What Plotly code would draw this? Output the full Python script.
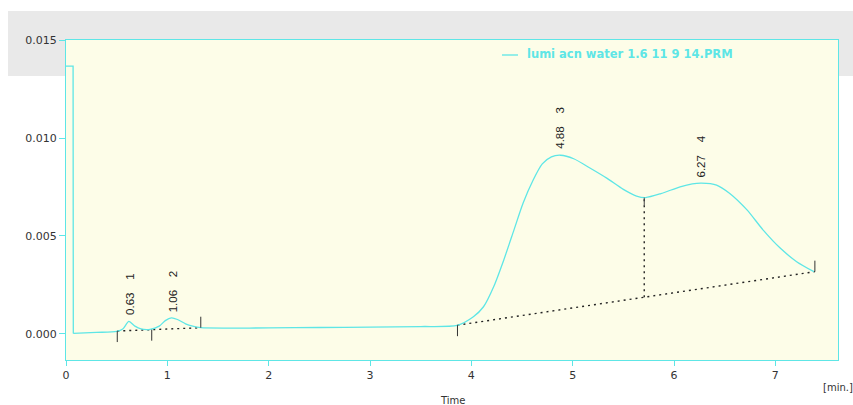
import plotly.graph_objects as go

# ---- data ----
spike_t = [0.0, 0.07, 0.072]
spike_v = [0.01367, 0.01367, 0.00003]

sig_t = [0.072, 0.3, 0.5, 0.56, 0.62, 0.68, 0.74, 0.83, 0.92, 0.98, 1.04, 1.10, 1.18, 1.25, 1.33,
         1.6, 2.0, 2.5, 3.0, 3.5, 3.86, 4.02, 4.12, 4.22, 4.32, 4.42, 4.51, 4.61, 4.70, 4.79,
         4.88, 5.01, 5.17, 5.34, 5.50, 5.63, 5.72, 5.87, 6.06, 6.18, 6.27, 6.42, 6.55,
         6.72, 6.88, 7.05, 7.21, 7.38]
sig_v = [0.00003, 0.00008, 0.00013, 0.00025, 0.00064, 0.00040, 0.00026, 0.00024, 0.00040, 0.00068,
         0.00082, 0.00074, 0.00052, 0.00040, 0.00032,
         0.00030, 0.00031, 0.00033, 0.00035, 0.00038, 0.00044, 0.00088, 0.00139, 0.00241, 0.00378,
         0.00530, 0.00667, 0.00786, 0.00868, 0.00904,
         0.00912, 0.00894, 0.00847, 0.00794, 0.00738, 0.00704, 0.00696, 0.00716, 0.00751,
         0.00766, 0.00770, 0.00760, 0.00717,
         0.00633, 0.00530, 0.00437, 0.00369, 0.00318]

peak_t = [0.63, 1.06, 4.88, 6.27]
peak_v = [0.00066, 0.00082, 0.00912, 0.00770]
peak_id = ["1", "2", "3", "4"]

# baseline markers (start/valley/end of integration)
mark_t = [0.506, 0.846, 1.33, 3.863, 7.39]
mark_v = [0.00015, 0.00022, 0.00032, 0.00045, 0.00318]
mark_dir = [-1, -1, 1, -1, 1]

base1_t = [0.506, 1.33]
base1_v = [0.00015, 0.00032]
base2_t = [3.863, 7.39]
base2_v = [0.00045, 0.00318]
drop_t = [5.706, 5.706]
drop_v = [0.00188, 0.00696]

x_ticks = [0, 1, 2, 3, 4, 5, 6, 7]
y_ticks = [0.0, 0.005, 0.010, 0.015]
legend_name = "lumi acn water 1.6 11 9 14.PRM"

CYAN = "#5EE6E6"
W, H = 853, 405
ML, MR, MT, MB = 66, 15, 40, 45
PW, PH = W - ML - MR, H - MT - MB


def px(xp):
    return (xp - ML) / PW


def py(yp):
    return (H - MB - yp) / PH


fig = go.Figure()

# dotted baselines
for bt, bv in [(base1_t, base1_v), (base2_t, base2_v), (drop_t, drop_v)]:
    fig.add_trace(go.Scatter(x=bt, y=bv, mode="lines",
                             line=dict(color="#222222", width=1.4, dash="2px,4px"),
                             hoverinfo="skip", showlegend=False))

fig.add_trace(go.Scatter(x=spike_t, y=spike_v, mode="lines",
                         line=dict(color=CYAN, width=1.3), showlegend=False))
fig.add_trace(go.Scatter(x=sig_t, y=sig_v, mode="lines", name=legend_name,
                         line=dict(color=CYAN, width=1.3, shape="spline", smoothing=0.7),
                         showlegend=False))

shapes = [
    # gray header band
    dict(type="rect", xref="paper", yref="paper", x0=px(8), x1=px(853), y0=py(76), y1=py(11),
         fillcolor="#E9E9E9", line=dict(width=0), layer="below"),
    # plot background
    dict(type="rect", xref="paper", yref="paper", x0=0, x1=1, y0=0, y1=1,
         fillcolor="#FDFDE8", line=dict(width=0), layer="below"),
    # legend line sample
    dict(type="line", xref="paper", yref="paper", x0=px(502), x1=px(518), y0=py(55), y1=py(55),
         line=dict(color=CYAN, width=1.3)),
]
for t, v, d in zip(mark_t, mark_v, mark_dir):
    shapes.append(dict(type="line", xref="x", yref="y", xsizemode="scaled", ysizemode="pixel",
                       yanchor=v, x0=t, x1=t, y0=0, y1=11 * d,
                       line=dict(color="#333333", width=1)))
# short solid tick at top of drop line
shapes.append(dict(type="line", xref="x", yref="y", ysizemode="pixel", yanchor=drop_v[1],
                   x0=drop_t[1], x1=drop_t[1], y0=0, y1=-8, line=dict(color="#444444", width=1)))

annotations = []
for t, v, i in zip(peak_t, peak_v, peak_id):
    annotations.append(dict(x=t, y=v, xref="x", yref="y", text=f"{t:.2f}" + "\u00a0" * 4 + i,
                            textangle=-90, showarrow=False, xanchor="center", yanchor="bottom",
                            yshift=4, font=dict(family="Liberation Sans, Arial", size=11.5, color="#222222")))
annotations += [
    dict(x=px(525), y=py(54.5), xref="paper", yref="paper", text=f"<b>{legend_name}</b>",
         showarrow=False, xanchor="left", yanchor="middle",
         font=dict(family="DejaVu Sans", size=11.5, color=CYAN)),
    dict(x=px(837.5), y=py(387), xref="paper", yref="paper", text="[min.]", showarrow=False,
         xanchor="center", yanchor="middle",
         font=dict(family="DejaVu Sans", size=10, color="#333333")),
    dict(x=0.5, y=py(400), xref="paper", yref="paper", text="Time", showarrow=False,
         xanchor="center", yanchor="middle",
         font=dict(family="DejaVu Sans", size=10, color="#333333")),
]

fig.update_layout(
    width=W, height=H,
    margin=dict(l=ML, r=MR, t=MT, b=MB, pad=0),
    paper_bgcolor="white", plot_bgcolor="rgba(0,0,0,0)",
    showlegend=False,
    shapes=shapes, annotations=annotations,
    font=dict(family="DejaVu Sans", size=11, color="#333333"),
)
fig.update_xaxes(range=[0, 7.618], tickvals=x_ticks, ticktext=[str(v) for v in x_ticks],
                 showgrid=False, zeroline=False, showline=True, mirror=True,
                 linecolor=CYAN, linewidth=1.2, ticks="outside", ticklen=5, tickcolor=CYAN,
                 tickfont=dict(family="DejaVu Sans", size=11, color="#333333"))
fig.update_yaxes(range=[-0.001327, 0.015], tickvals=y_ticks, ticktext=[f"{v:.3f}" for v in y_ticks],
                 showgrid=False, zeroline=False, showline=True, mirror=True,
                 linecolor=CYAN, linewidth=1.2, ticks="outside", ticklen=6, tickcolor=CYAN,
                 tickfont=dict(family="DejaVu Sans", size=11, color="#333333"))

fig.write_html("out.html")
